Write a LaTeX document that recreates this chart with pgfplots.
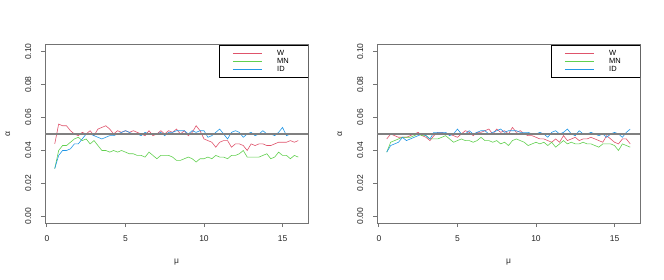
\documentclass[border=0pt]{standalone}
\usepackage{pgfplots}
\usepackage{pgfplotstable}
\pgfplotsset{compat=1.18}
\usepackage{fontspec}
\setmainfont{Liberation Sans}
\definecolor{rred}{HTML}{DF536B}
\definecolor{rgreen}{HTML}{61D04F}
\definecolor{rblue}{HTML}{2297E6}

\pgfplotstableread{
x W MN ID
0.5 0.044 0.029 0.029
0.75 0.056 0.040 0.037
1.0 0.055 0.043 0.040
1.25 0.055 0.043 0.040
1.5 0.052 0.045 0.041
1.75 0.050 0.047 0.044
2.0 0.049 0.048 0.044
2.25 0.051 0.046 0.047
2.5 0.050 0.047 0.050
2.75 0.052 0.044 0.050
3.0 0.049 0.046 0.049
3.25 0.053 0.043 0.048
3.5 0.054 0.040 0.047
3.75 0.055 0.040 0.048
4.0 0.053 0.039 0.049
4.25 0.050 0.040 0.049
4.5 0.052 0.039 0.050
4.75 0.051 0.040 0.051
5.0 0.052 0.039 0.052
5.25 0.051 0.038 0.051
5.5 0.052 0.038 0.050
5.75 0.051 0.037 0.050
6.0 0.050 0.037 0.049
6.25 0.049 0.036 0.051
6.5 0.052 0.039 0.050
6.75 0.049 0.037 0.050
7.0 0.050 0.035 0.050
7.25 0.052 0.037 0.051
7.5 0.050 0.037 0.049
7.75 0.052 0.037 0.051
8.0 0.051 0.036 0.051
8.25 0.053 0.034 0.052
8.5 0.050 0.034 0.052
8.75 0.052 0.035 0.052
9.0 0.049 0.036 0.050
9.25 0.051 0.035 0.052
9.5 0.055 0.033 0.051
9.75 0.052 0.035 0.052
10.0 0.047 0.035 0.052
10.25 0.046 0.036 0.048
10.5 0.045 0.035 0.049
10.75 0.042 0.037 0.051
11.0 0.045 0.036 0.053
11.25 0.046 0.036 0.050
11.5 0.046 0.035 0.047
11.75 0.042 0.037 0.051
12.0 0.044 0.037 0.052
12.25 0.044 0.038 0.051
12.5 0.043 0.040 0.048
12.75 0.040 0.036 0.050
13.0 0.044 0.036 0.051
13.25 0.043 0.036 0.049
13.5 0.044 0.036 0.050
13.75 0.044 0.037 0.052
14.0 0.043 0.038 0.050
14.25 0.043 0.035 0.050
14.5 0.044 0.036 0.049
14.75 0.045 0.039 0.051
15.0 0.045 0.037 0.054
15.25 0.045 0.037 0.049
15.5 0.046 0.035 0.050
15.75 0.045 0.037 0.050
16.0 0.046 0.036 0.050
}\leftdata

\pgfplotstableread{
x W MN ID
0.5 0.047 0.039 0.039
0.75 0.050 0.045 0.043
1.0 0.049 0.046 0.044
1.25 0.048 0.047 0.045
1.5 0.048 0.048 0.048
1.75 0.048 0.048 0.046
2.0 0.049 0.048 0.047
2.25 0.050 0.049 0.048
2.5 0.051 0.050 0.049
2.75 0.049 0.049 0.050
3.0 0.048 0.049 0.049
3.25 0.046 0.047 0.047
3.5 0.049 0.047 0.051
3.75 0.051 0.047 0.051
4.0 0.051 0.048 0.051
4.25 0.050 0.049 0.051
4.5 0.050 0.047 0.049
4.75 0.049 0.045 0.050
5.0 0.048 0.046 0.053
5.25 0.050 0.047 0.050
5.5 0.052 0.046 0.050
5.75 0.051 0.046 0.052
6.0 0.049 0.045 0.050
6.25 0.051 0.046 0.051
6.5 0.051 0.048 0.052
6.75 0.052 0.046 0.052
7.0 0.053 0.046 0.050
7.25 0.050 0.045 0.051
7.5 0.053 0.046 0.052
7.75 0.051 0.044 0.053
8.0 0.052 0.045 0.051
8.25 0.050 0.043 0.052
8.5 0.054 0.046 0.052
8.75 0.051 0.047 0.052
9.0 0.052 0.046 0.051
9.25 0.050 0.045 0.051
9.5 0.049 0.043 0.051
9.75 0.049 0.044 0.050
10.0 0.048 0.045 0.050
10.25 0.047 0.044 0.051
10.5 0.047 0.045 0.050
10.75 0.046 0.043 0.048
11.0 0.045 0.045 0.051
11.25 0.047 0.042 0.052
11.5 0.045 0.044 0.050
11.75 0.049 0.046 0.051
12.0 0.046 0.044 0.053
12.25 0.047 0.045 0.050
12.5 0.048 0.044 0.049
12.75 0.046 0.044 0.052
13.0 0.047 0.045 0.050
13.25 0.047 0.044 0.050
13.5 0.048 0.044 0.051
13.75 0.047 0.043 0.050
14.0 0.046 0.042 0.049
14.25 0.045 0.044 0.050
14.5 0.049 0.044 0.048
14.75 0.047 0.044 0.050
15.0 0.045 0.043 0.051
15.25 0.044 0.040 0.050
15.5 0.047 0.044 0.048
15.75 0.047 0.043 0.051
16.0 0.044 0.042 0.053
}\rightdata

\pgfplotsset{
  rstyle/.style={
    scale only axis, width=263pt, height=178pt, anchor=south west,
    xmin=-0.12, xmax=16.62, ymin=-0.004, ymax=0.104,
    xtick={0,5,10,15}, ytick={0,0.02,0.04,0.06,0.08,0.1},
    axis line style={black!55, line width=1pt},
    tick style={black!55, line width=0.8pt},
    tick align=outside, major tick length=4pt,
    xtick pos=bottom, ytick pos=left,
    ticklabel style={font=\fontsize{8.5}{9}\selectfont, text=black!85},
    /pgf/number format/assume math mode=true,
    yticklabel={\pgfmathprintnumber[fixed, fixed zerofill, precision=2]{\tick}},
    yticklabel style={rotate=90, anchor=south, inner sep=0pt, yshift=9.5pt},
    xticklabel style={anchor=north, inner sep=0pt, yshift=-8pt},
    xlabel={μ}, ylabel={α},
    label style={font=\fontsize{8.5}{9}\selectfont, text=black!85},
    xlabel style={at={(axis description cs:0.5,-0.219)}, anchor=center},
    ylabel style={at={(axis description cs:-0.1407,0.5)}, anchor=center, rotate=0},
    every axis plot/.append style={line width=0.6pt, mark=none},
    clip=true,
  }
}

\newcommand{\rlegendbox}{%
  \draw[black, line width=0.7pt, fill=white] (rel axis cs:0.6616,0.8185) rectangle (rel axis cs:1,1);
  \draw[rred, line width=0.9pt] (rel axis cs:0.7148,0.9551) -- (rel axis cs:0.8251,0.9551);
  \draw[rgreen, line width=0.9pt] (rel axis cs:0.7148,0.9084) -- (rel axis cs:0.8251,0.9084);
  \draw[rblue, line width=0.9pt] (rel axis cs:0.7148,0.8635) -- (rel axis cs:0.8251,0.8635);
  \node[anchor=west, inner sep=0pt, font=\fontsize{7.5}{8}\selectfont] at (rel axis cs:0.8821,0.9551) {W};
  \node[anchor=west, inner sep=0pt, font=\fontsize{7.5}{8}\selectfont] at (rel axis cs:0.8821,0.9084) {MN};
  \node[anchor=west, inner sep=0pt, font=\fontsize{7.5}{8}\selectfont] at (rel axis cs:0.8821,0.8635) {ID};
}

\begin{document}
\begin{tikzpicture}[x=1pt,y=1pt]
\useasboundingbox (0,0) rectangle (664,279);
\begin{axis}[rstyle, at={(45pt,56pt)}]
  \addplot[draw=rred] table[x=x, y=W] {\leftdata};
  \addplot[draw=rgreen] table[x=x, y=MN] {\leftdata};
  \addplot[draw=rblue] table[x=x, y=ID] {\leftdata};
  \addplot[draw=black!50, line width=1.6pt] coordinates {(-0.12,0.05) (16.62,0.05)};
  \rlegendbox
\end{axis}
\begin{axis}[rstyle, at={(377pt,56pt)}]
  \addplot[draw=rred] table[x=x, y=W] {\rightdata};
  \addplot[draw=rgreen] table[x=x, y=MN] {\rightdata};
  \addplot[draw=rblue] table[x=x, y=ID] {\rightdata};
  \addplot[draw=black!50, line width=1.6pt] coordinates {(-0.12,0.05) (16.62,0.05)};
  \rlegendbox
\end{axis}
\end{tikzpicture}
\end{document}
